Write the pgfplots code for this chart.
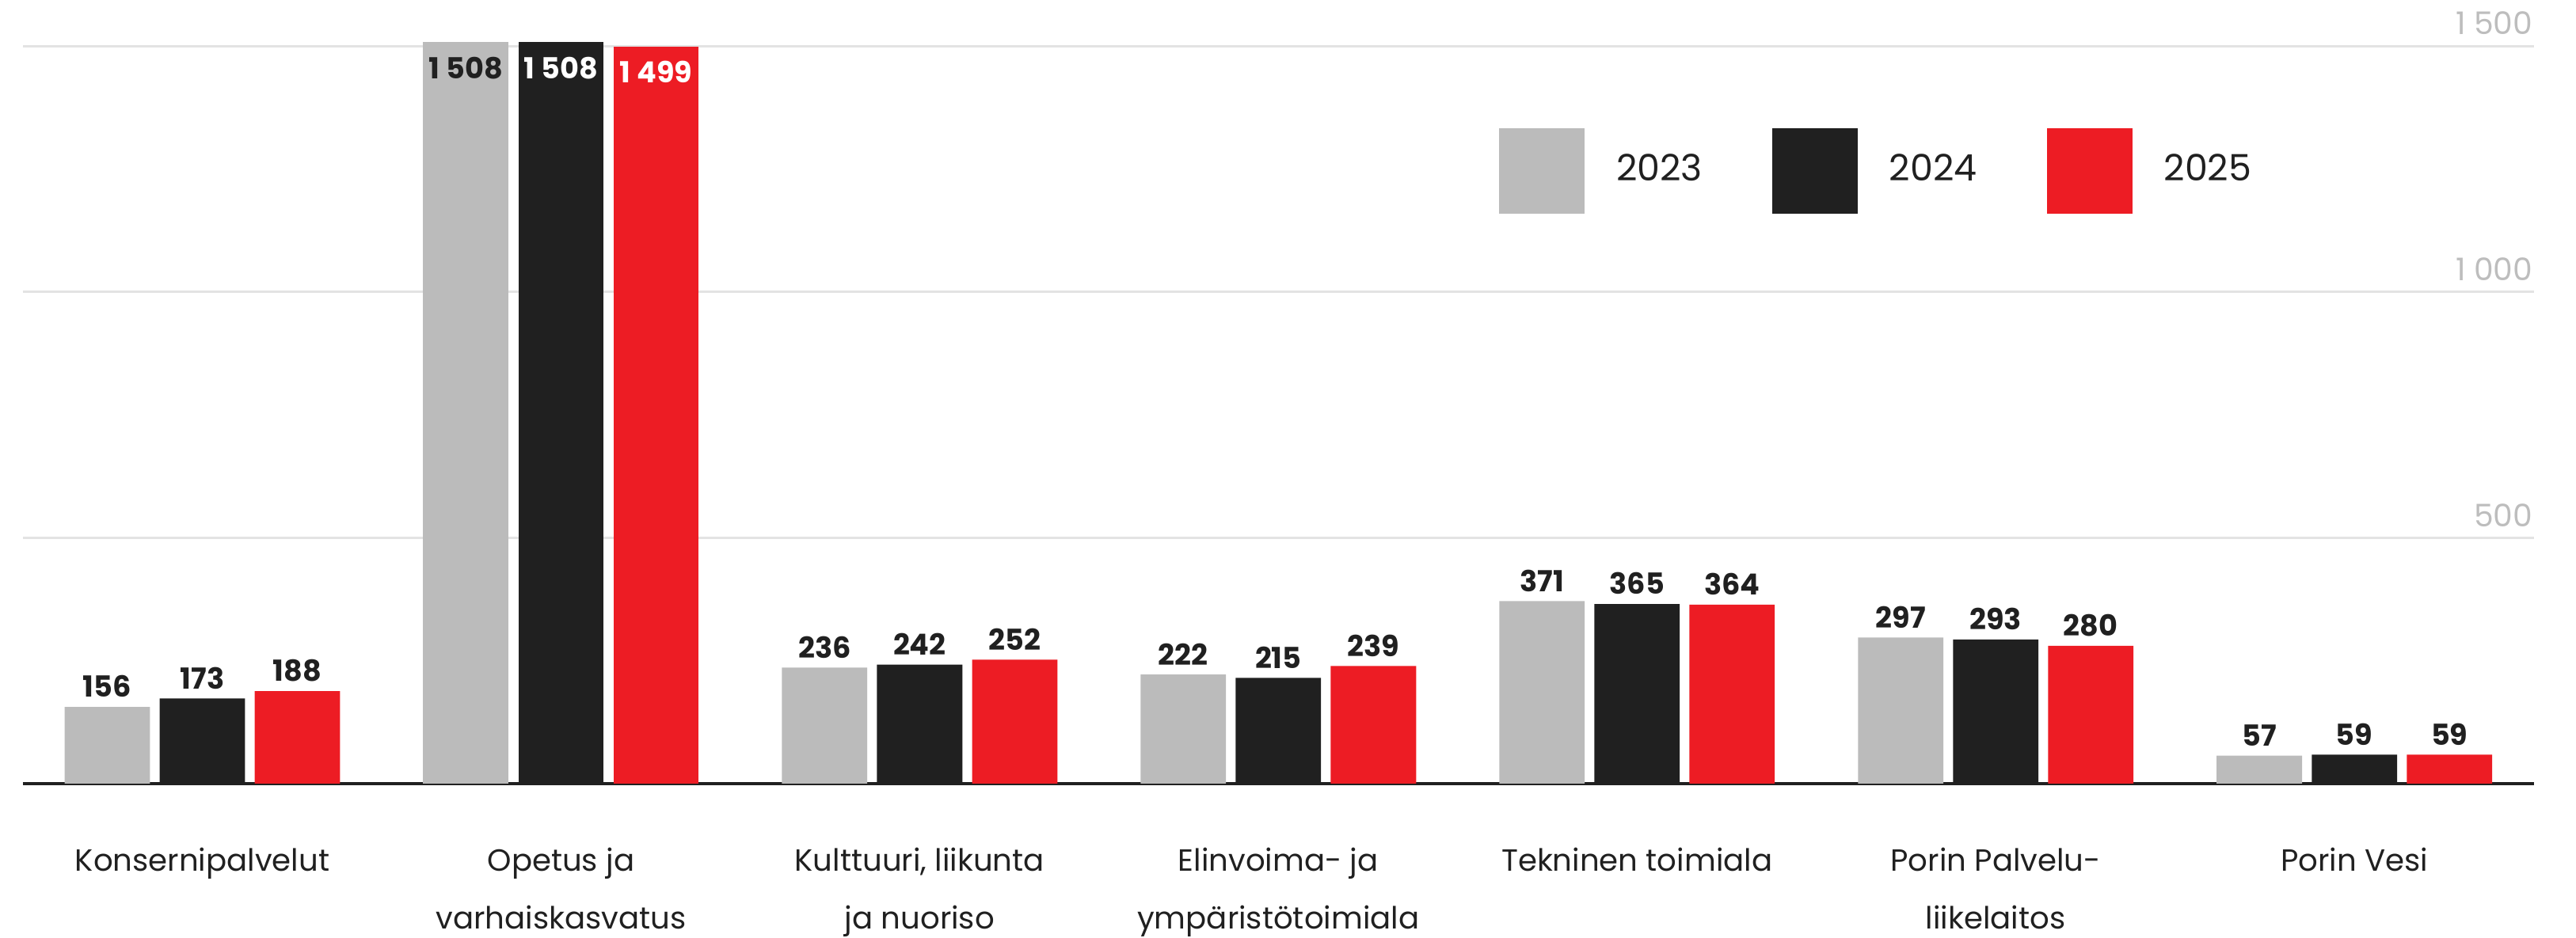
\documentclass[border=0pt]{standalone}
\usepackage{pgfplots}
\pgfplotsset{compat=1.18}
\usepackage{fontspec}
\setmainfont{Poppins}
\definecolor{cgray}{HTML}{BBBBBB}
\definecolor{cblack}{HTML}{202020}
\definecolor{cred}{HTML}{ED1C24}
\definecolor{cgrid}{HTML}{E3E3E3}
\definecolor{ctick}{HTML}{BDBDBD}
\pgfplotsset{
  sq legend/.style={legend image code/.code={\fill[##1,draw=none] (0pt,-8.1pt) rectangle (16.2pt,8.1pt);}},
  above lab/.style={nodes near coords={\pgfmathprintnumber[assume math mode=true,1000 sep={\ }]{\pgfplotspointmeta}},
    every node near coord/.append style={font=\bfseries\fontsize{5.5}{6}\selectfont, text=cblack, anchor=south, inner sep=0pt, yshift=1.6pt}},
  inside lab/.style={nodes near coords={\pgfmathprintnumber[assume math mode=true,1000 sep={\ }]{\pgfplotspointmeta}},
    every node near coord/.append style={font=\bfseries\fontsize{5.5}{6}\selectfont, text=#1, anchor=north, inner sep=0pt, yshift=-2.6pt}},
}
\begin{document}
\begin{tikzpicture}
\useasboundingbox (0,0) rectangle (488pt,177.75pt);
\begin{axis}[
  at={(4.35pt,29.25pt)}, anchor=south west,
  scale only axis, width=475.65pt, height=139.8pt,
  xmin=-0.5, xmax=6.5, ymin=0, ymax=1500,
  clip=false,
  axis x line*=bottom, axis y line*=right,
  x axis line style={draw=cblack, line width=0.6pt, -},
  y axis line style={draw=none},
  major tick length=0pt,
  ytick={500,1000,1500}, yticklabels={500,1 000,1 500},
  ymajorgrids, grid style={draw=cgrid, line width=0.45pt},
  yticklabel style={anchor=south east, font=\fontsize{5.9}{6}\selectfont, text=ctick, inner sep=0pt, yshift=1.9pt},
  xtick={0,1,2,3,4,5,6},
  xticklabels={Konsernipalvelut, Opetus ja\\varhaiskasvatus, {Kulttuuri, liikunta\\ja nuoriso}, Elinvoima- ja\\ympäristötoimiala, Tekninen toimiala, Porin Palvelu-\\liikelaitos, Porin Vesi},
  xticklabel style={align=center, anchor=north, inner sep=0pt, yshift=-12pt, font=\fontsize{5.8}{10.9}\selectfont, text=cblack},
  ybar, bar width=0.238,
  legend columns=3,
  legend style={at={(0.5875,0.830)}, anchor=west, draw=none, fill=none, inner sep=0pt,
    font=\fontsize{6.9}{8}\selectfont, text=cblack,
    /tikz/every odd column/.append style={column sep=4pt},
    /tikz/every even column/.append style={column sep=11.2pt}},
]
\addplot[fill=cgray, draw=none, bar shift=-0.265, sq legend, above lab] coordinates {(0,156) (2,236) (3,222) (4,371) (5,297) (6,57)};
\addplot[fill=cblack, draw=none, bar shift=0, sq legend, above lab] coordinates {(0,173) (2,242) (3,215) (4,365) (5,293) (6,59)};
\addplot[fill=cred, draw=none, bar shift=0.265, sq legend, above lab] coordinates {(0,188) (2,252) (3,239) (4,364) (5,280) (6,59)};
\addplot[fill=cgray, draw=none, bar shift=-0.265, forget plot, inside lab=cblack] coordinates {(1,1508)};
\addplot[fill=cblack, draw=none, bar shift=0, forget plot, inside lab=white] coordinates {(1,1508)};
\addplot[fill=cred, draw=none, bar shift=0.265, forget plot, inside lab=white] coordinates {(1,1499)};
\legend{2023,2024,2025}
\end{axis}
\end{tikzpicture}
\end{document}
